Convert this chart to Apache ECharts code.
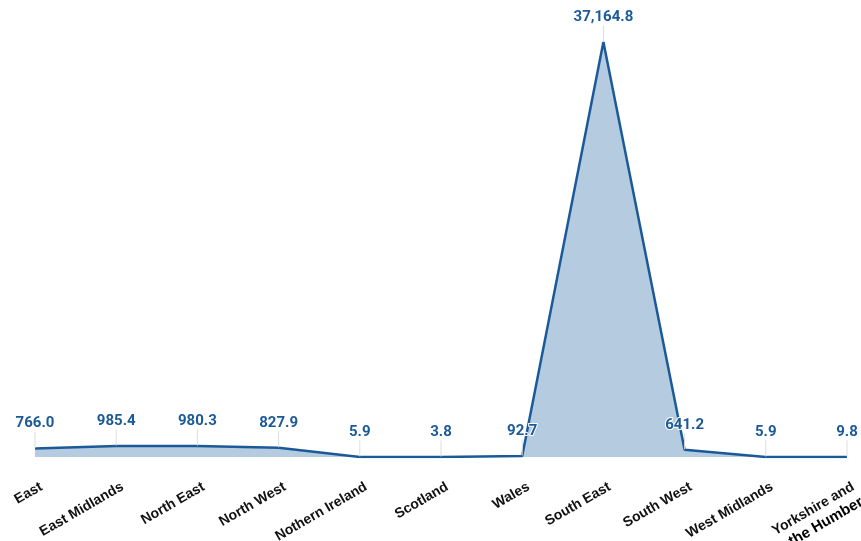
<!DOCTYPE html>
<html>
<head>
<meta charset="utf-8">
<script src="https://cdn.jsdelivr.net/npm/echarts@6/dist/echarts.min.js"></script>
<style>
  html, body { margin: 0; padding: 0; background: #ffffff; }
  #chart { width: 861px; height: 541px; }
</style>
</head>
<body>
<div id="chart"></div>
<script>
const regions = [
  'East', 'East Midlands', 'North East', 'North West', 'Nothern Ireland',
  'Scotland', 'Wales', 'South East', 'South West', 'West Midlands',
  'Yorkshire and\nthe Humber'
];
const values = [766.0, 985.4, 980.3, 827.9, 5.9, 3.8, 92.7, 37164.8, 641.2, 5.9, 9.8];

const fmt = v => v.toLocaleString('en-US', { minimumFractionDigits: 1, maximumFractionDigits: 1 });

const chart = echarts.init(document.getElementById('chart'));
chart.setOption({
  animation: false,
  grid: { left: 35, right: 14, top: 42, bottom: 84, containLabel: false, outerBoundsMode: 'none' },
  xAxis: {
    type: 'category',
    data: regions,
    boundaryGap: false,
    axisLine: { show: false },
    axisTick: { show: false },
    splitLine: { show: false },
    axisLabel: {
      interval: 0,
      rotate: 30,
      margin: 18,
      verticalAlign: 'top',
      padding: [4, 0, 0, 0],
      color: '#111111',
      fontFamily: 'Liberation Sans',
      fontWeight: 'bold',
      fontSize: 14,
      lineHeight: 17,
      formatter: name => {
        const parts = name.split('\n');
        if (parts.length === 1) return name;
        return '{a|' + parts[0] + '}\n{b|' + parts[1] + '}';
      },
      rich: {
        a: { fontFamily: 'Liberation Sans', fontWeight: 'bold', fontSize: 14, color: '#111111', lineHeight: 17 },
        b: { fontFamily: 'Liberation Sans', fontWeight: 'bold', fontSize: 15, color: '#000000', lineHeight: 18 }
      }
    }
  },
  yAxis: {
    type: 'value',
    min: 0,
    max: 'dataMax',
    show: false,
    splitLine: { show: false }
  },
  series: [{
    type: 'line',
    data: values,
    symbol: 'circle',
    symbolSize: 1,
    showSymbol: true,
    itemStyle: { color: 'rgba(27,90,152,0)' },
    lineStyle: { color: '#1b5a98', width: 2.5 },
    areaStyle: { color: '#b4cbe0', opacity: 1 },
    label: {
      show: true,
      position: 'top',
      distance: 6,
      color: '#1b5a98',
      fontFamily: 'Roboto',
      fontWeight: 'bold',
      fontSize: 15,
      textBorderColor: '#ffffff',
      textBorderWidth: 2,
      formatter: p => fmt(p.value)
    },
    labelLayout: { dy: -11 },
    labelLine: { show: true, lineStyle: { color: '#dddddd', width: 1 } }
  }]
});
</script>
</body>
</html>
